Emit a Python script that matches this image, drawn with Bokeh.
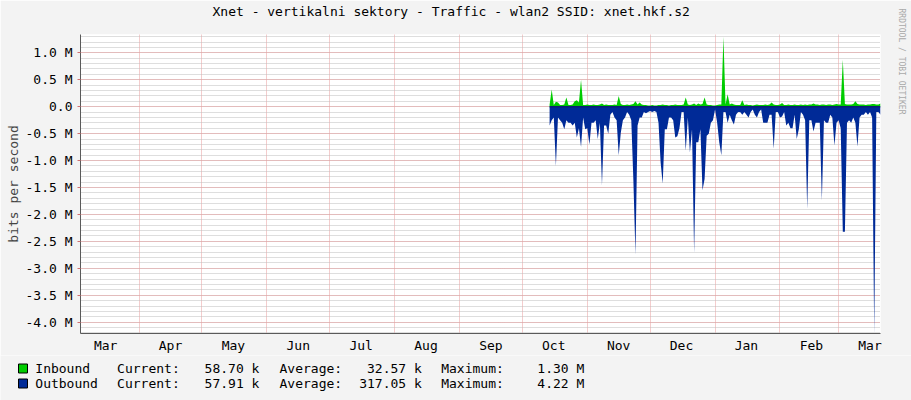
import numpy as np
from bokeh.plotting import figure
from bokeh.layouts import column, row
from bokeh.models import (FixedTicker, SingleIntervalTicker, CustomJSTickFormatter,
                          ColumnDataSource, Range1d, Title)
from bokeh.core.properties import value
from bokeh.embed import file_html
from bokeh.resources import INLINE

# ---------------- data ----------------
chart_title = "Xnet - vertikalni sektory - Traffic - wlan2 SSID: xnet.hkf.s2"
y_label = "bits per second"

# x axis: days counted from 4 March (left edge of the graph)
month_labels = ["Mar", "Apr", "May", "Jun", "Jul", "Aug", "Sep", "Oct", "Nov", "Dec", "Jan", "Feb", "Mar"]
month_label_days = [12, 43, 73, 104, 134, 165, 196, 226, 257, 287, 318, 349, 377]
month_start_days = [28, 58, 89, 119, 150, 181, 211, 242, 272, 303, 334, 362]
x_span_days = [0, 382]
first_day = 224  # first day with data (mid October)

# daily values in Mbit/s
inbound_mbps = [
    0.04, 0.32, 0.03, 0.09, 0.08, 0.03, 0.03, 0.04, 0.17, 0.03,
    0.03, 0.04, 0.10, 0.12, 0.08, 0.50, 0.03, 0.03, 0.04, 0.03,
    0.03, 0.04, 0.03, 0.03, 0.04, 0.06, 0.03, 0.04, 0.03, 0.03,
    0.03, 0.04, 0.03, 0.20, 0.05, 0.03, 0.03, 0.04, 0.03, 0.04,
    0.05, 0.10, 0.04, 0.08, 0.04, 0.03, 0.03, 0.02, 0.02, 0.03,
    0.02, 0.02, 0.03, 0.03, 0.04, 0.03, 0.03, 0.02, 0.03, 0.03,
    0.04, 0.03, 0.03, 0.03, 0.04, 0.17, 0.04, 0.03, 0.04, 0.06,
    0.03, 0.06, 0.04, 0.05, 0.17, 0.04, 0.03, 0.03, 0.02, 0.02,
    0.03, 0.04, 0.04, 1.30, 0.04, 0.23, 0.04, 0.06, 0.04, 0.03,
    0.03, 0.03, 0.12, 0.03, 0.04, 0.03, 0.03, 0.02, 0.03, 0.04,
    0.03, 0.03, 0.03, 0.04, 0.03, 0.04, 0.08, 0.04, 0.03, 0.03,
    0.04, 0.07, 0.03, 0.03, 0.04, 0.03, 0.03, 0.04, 0.03, 0.03,
    0.04, 0.03, 0.04, 0.03, 0.04, 0.04, 0.06, 0.04, 0.04, 0.03,
    0.04, 0.04, 0.03, 0.04, 0.04, 0.03, 0.04, 0.05, 0.04, 0.04,
    0.87, 0.05, 0.04, 0.04, 0.04, 0.05, 0.10, 0.05, 0.04, 0.04,
    0.04, 0.03, 0.04, 0.04, 0.05, 0.05, 0.04, 0.04, 0.06,
]
outbound_mbps = [
    0.35, 0.25, 0.20, 1.10, 0.20, 0.25, 0.30, 0.42, 0.25, 0.30,
    0.30, 0.35, 0.30, 0.57, 0.40, 0.75, 0.20, 0.42, 0.40, 0.70,
    0.30, 0.30, 0.25, 0.60, 0.30, 1.46, 0.35, 0.35, 0.50, 0.15,
    0.10, 0.20, 0.25, 0.90, 0.48, 0.25, 0.20, 0.10, 0.15, 0.25,
    1.37, 2.75, 0.35, 0.20, 0.20, 0.10, 0.12, 0.10, 0.08, 0.10,
    0.08, 0.10, 0.30, 1.03, 1.43, 0.42, 0.42, 0.20, 0.20, 0.25,
    0.57, 0.55, 0.40, 0.10, 0.10, 0.82, 0.20, 0.85, 0.42, 2.72,
    0.66, 0.66, 0.42, 1.55, 1.34, 0.54, 0.50, 0.30, 0.25, 0.05,
    0.30, 0.66, 0.90, 0.10, 0.10, 0.30, 0.15, 0.25, 0.33, 0.15,
    0.10, 0.10, 0.15, 0.10, 0.15, 0.20, 0.10, 0.05, 0.15, 0.20,
    0.10, 0.05, 0.30, 0.30, 0.30, 0.15, 0.15, 0.78, 0.10, 0.10,
    0.20, 0.18, 0.10, 0.35, 0.30, 0.40, 0.40, 0.15, 0.60, 0.42,
    0.10, 0.15, 0.25, 1.90, 0.25, 0.25, 0.46, 0.30, 0.30, 0.30,
    1.74, 0.25, 0.30, 0.30, 0.15, 0.20, 0.72, 0.30, 0.25, 0.40,
    2.32, 2.32, 0.30, 0.25, 0.30, 0.20, 0.30, 0.74, 0.20, 0.15,
    0.15, 0.10, 0.15, 0.10, 0.20, 4.22, 0.10, 0.10, 0.15,
]
y_span_mbps = [-4.21, 1.34]

legend_names = ["Inbound", "Outbound"]
legend_colors = ["#00CC00", "#002A97"]
legend_current = ["58.70 k", "57.91 k"]
legend_average = ["32.57 k", "317.05 k"]
legend_maximum = ["1.30 M", "4.22 M"]
watermark = "RRDTOOL / TOBI OETIKER"

# ---------------- main figure ----------------
FONT = "DejaVu Sans Mono"
FS = "13px"
BG = "#F3F3F3"
W = 911
H_MAIN = 355
H_LEG = 45

p = figure(width=W, height=H_MAIN, output_backend="svg", toolbar_location=None,
           x_range=Range1d(*x_span_days), y_range=Range1d(*y_span_mbps),
           min_border_left=80, min_border_right=31, min_border_top=34, min_border_bottom=20)
p.border_fill_color = BG
p.background_fill_color = "white"
p.outline_line_color = None

# real title (outermost); an empty spacer title sits between it and the frame
p.title.text = chart_title
p.title.align = "left"
p.title.offset = 132
p.title.vertical_align = "bottom"
p.title.standoff = 0
p.title.text_font = FONT
p.title.text_font_size = FS
p.title.text_font_style = "normal"
p.title.text_color = "black"
p.add_layout(Title(text="\u00a0", text_font=FONT, text_font_size="12px", standoff=0), "above")

# vertical watermark in the right margin (spacer first, then the text)
p.add_layout(Title(text="\u00a0", text_font=FONT, text_font_size="8px", standoff=0), "right")
p.add_layout(Title(text=watermark, align="left", offset=-26, vertical_align="top",
                   text_font=FONT, text_font_size="8px", text_font_style="normal",
                   text_color="#A9A9A9", standoff=7), "right")

days = np.arange(first_day, first_day + len(inbound_mbps))
src = ColumnDataSource(dict(day=days,
                            inb=np.array(inbound_mbps),
                            outb=-np.array(outbound_mbps),
                            zero=np.zeros(len(days))))

# grid
p.xgrid.ticker = FixedTicker(ticks=month_start_days)
p.xgrid.grid_line_color = "#E89A9A"
p.xgrid.grid_line_dash = "1 1"
p.ygrid.ticker = SingleIntervalTicker(interval=0.5, num_minor_ticks=5)
p.ygrid.grid_line_color = "#E89A9A"
p.ygrid.grid_line_dash = "1 1"
p.ygrid.minor_grid_line_color = "#BDBDBD"
p.ygrid.minor_grid_line_dash = "1 1"

# axes
for ax in (p.xaxis[0], p.yaxis[0]):
    ax.axis_line_color = "#5A5A5A"
    ax.major_label_text_font = FONT
    ax.major_label_text_font_size = FS
    ax.major_label_text_color = "black"
    ax.minor_tick_out = 0
    ax.minor_tick_in = 0
    ax.major_tick_in = 0

p.xaxis.ticker = FixedTicker(ticks=month_label_days)
p.xaxis.formatter = CustomJSTickFormatter(args=dict(days=month_label_days, names=month_labels),
                                          code="const i = days.indexOf(tick); return i >= 0 ? names[i] : '';")
p.xaxis.major_tick_out = 0
p.xaxis.major_label_standoff = 4

p.yaxis.ticker = SingleIntervalTicker(interval=0.5, num_minor_ticks=5)
p.yaxis.formatter = CustomJSTickFormatter(code="return Math.abs(tick) < 1e-9 ? '0.0' : tick.toFixed(1) + ' M';")
p.yaxis.major_tick_out = 3
p.yaxis.major_tick_line_color = "#D07070"
p.yaxis.major_label_standoff = 5
p.yaxis.axis_label = y_label
p.yaxis.axis_label_text_font = FONT
p.yaxis.axis_label_text_font_size = FS
p.yaxis.axis_label_text_font_style = "normal"
p.yaxis.axis_label_standoff = 2

# data
p.varea(x="day", y1="zero", y2="outb", source=src, fill_color=legend_colors[1])
p.varea(x="day", y1="zero", y2="inb", source=src, fill_color=legend_colors[0])
p.line(x="day", y="zero", source=src, line_color="#0A1F73", line_width=1.5)

# ---------------- legend strip (pixel coordinates) ----------------
pl = figure(width=W, height=H_LEG, output_backend="svg", toolbar_location=None,
            x_range=Range1d(0, W), y_range=Range1d(H_LEG, 0), min_border=0,
            x_axis_location=None, y_axis_location=None)
pl.border_fill_color = BG
pl.background_fill_color = BG
pl.outline_line_color = None
pl.grid.visible = False

row_y = [13, 28]
box_x = 22.5
pl.rect(x=[box_x] * 2, y=row_y, width=9, height=9, fill_color=legend_colors, line_color="black")

left_texts = dict(x=[], y=[], t=[])
right_texts = dict(x=[], y=[], t=[])
for i in range(2):
    for t, x in ((legend_names[i], 34.8), ("Current:", 116.6), ("Average:", 279), ("Maximum:", 440.7)):
        left_texts["x"].append(x); left_texts["y"].append(row_y[i]); left_texts["t"].append(t)
    for t, x in ((legend_current[i], 258.9), (legend_average[i], 421.3), (legend_maximum[i], 583.8)):
        right_texts["x"].append(x); right_texts["y"].append(row_y[i]); right_texts["t"].append(t)

pl.text(x=left_texts["x"], y=left_texts["y"], text=left_texts["t"], text_align="left",
        text_baseline="middle", text_font=value(FONT), text_font_size=value(FS), text_color="black")
pl.text(x=right_texts["x"], y=right_texts["y"], text=right_texts["t"], text_align="right",
        text_baseline="middle", text_font=value(FONT), text_font_size=value(FS), text_color="black")

layout = column(p, row(pl), spacing=0)
open("out.html", "w").write(file_html(layout, INLINE))
